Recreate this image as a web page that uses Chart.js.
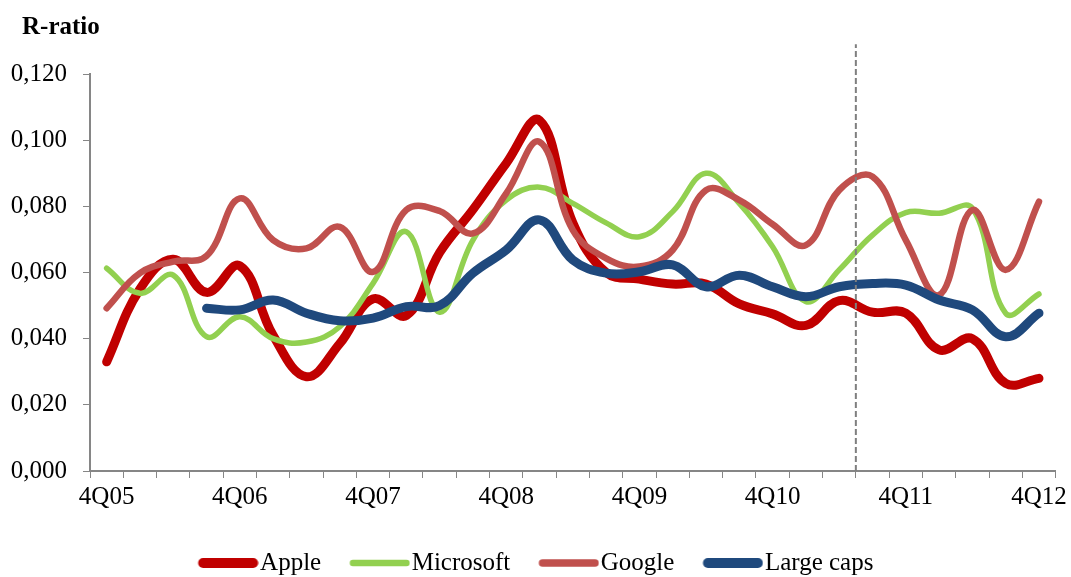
<!DOCTYPE html>
<html>
<head>
<meta charset="utf-8">
<script src="https://cdn.jsdelivr.net/npm/chart.js@4/dist/chart.umd.min.js"></script>
<style>
  html, body { margin: 0; padding: 0; background: #fff; }
  #wrap { width: 1071px; height: 577px; position: relative; }
</style>
</head>
<body>
<div id="wrap"><canvas id="rChart"></canvas></div>
<script>
// --- DATA ---
const quarters = [
    '4Q05', '1Q06', '2Q06', '3Q06', '4Q06', '1Q07', '2Q07', '3Q07',
    '4Q07', '1Q08', '2Q08', '3Q08', '4Q08', '1Q09', '2Q09', '3Q09',
    '4Q09', '1Q10', '2Q10', '3Q10', '4Q10', '1Q11', '2Q11', '3Q11',
    '4Q11', '1Q12', '2Q12', '3Q12', '4Q12'
];
const apple = [
    0.033, 0.055, 0.064, 0.054, 0.062, 0.041, 0.0285, 0.0385,
    0.052, 0.047, 0.066, 0.079, 0.093, 0.106, 0.075, 0.060,
    0.058, 0.0565, 0.0565, 0.0505, 0.0475, 0.044, 0.0515, 0.048,
    0.0477, 0.0366, 0.040, 0.0265, 0.028
];
const microsoft = [
    0.0613, 0.0537, 0.0592, 0.0406, 0.0466, 0.040, 0.039, 0.0436,
    0.0567, 0.0723, 0.048, 0.0698, 0.0819, 0.0858, 0.0809, 0.075,
    0.0708, 0.0784, 0.090, 0.0809, 0.0678, 0.0512, 0.0608, 0.0713,
    0.0781, 0.0779, 0.0794, 0.0477, 0.0535
];
const google = [
    0.0492, 0.0598, 0.0633, 0.065, 0.0824, 0.0698, 0.0673, 0.0738,
    0.0602, 0.0789, 0.0786, 0.0718, 0.0839, 0.0995, 0.0728, 0.0643,
    0.0618, 0.0668, 0.0849, 0.0819, 0.0746, 0.0683, 0.0849, 0.089,
    0.0698, 0.0532, 0.0789, 0.0608, 0.0814
];
const largeCaps = [
    null, null, null, 0.0492, 0.0487, 0.0517, 0.0477, 0.0454,
    0.0462, 0.0497, 0.050, 0.0598, 0.0668, 0.0759, 0.0638, 0.0598,
    0.0602, 0.0623, 0.0557, 0.0592, 0.0557, 0.0527, 0.0557, 0.0567,
    0.0562, 0.0517, 0.0487, 0.0406, 0.0477
];
const yTicks = [0, 0.02, 0.04, 0.06, 0.08, 0.10, 0.12];
const xLabelEvery = 4;
// forecast divider sits between 2Q11 and 3Q11
const dividerAt = 22.5;
const dividerTop = 0.129;

const serif = '"Liberation Serif", "Times New Roman", serif';
const axisGrey = '#868686';
const swatchBox = 50;

// --- PLUGINS ---
const titleAndDivider = {
    id: 'titleAndDivider',
    afterDatasetsDraw(chart) {
        const c = chart.ctx;
        const x = chart.scales.x.getPixelForValue(dividerAt);
        const y0 = chart.scales.y.getPixelForValue(0);
        const y1 = chart.scales.y.getPixelForValue(dividerTop);
        c.save();
        c.strokeStyle = '#7f7f7f';
        c.lineWidth = 2;
        c.setLineDash([6, 3]);
        c.beginPath();
        c.moveTo(x, y0);
        c.lineTo(x, y1);
        c.stroke();
        c.restore();
    },
    afterDraw(chart) {
        const c = chart.ctx;
        c.save();
        c.fillStyle = '#000';
        c.font = 'bold 25px ' + serif;
        c.textBaseline = 'alphabetic';
        c.fillText('R-ratio', 22, 34);
        c.restore();
    }
};

// legend swatch: a rounded stroke, nudged right so it sits close to its text
function swatch(color, lw) {
    const cv = document.createElement('canvas');
    cv.width = 72;
    cv.height = 16;
    const g = cv.getContext('2d');
    g.strokeStyle = color;
    g.lineWidth = lw;
    g.lineCap = 'round';
    g.beginPath();
    g.moveTo(11.5 + lw / 2, 8);
    g.lineTo(71.5 - lw / 2, 8);
    g.stroke();
    return cv;
}

function legendItems(chart) {
    const base = Chart.defaults.plugins.legend.labels.generateLabels(chart);
    return base.map(l => {
        const ds = chart.data.datasets[l.datasetIndex];
        return { ...l, pointStyle: swatch(ds.borderColor, ds.borderWidth + 1) };
    });
}

// --- CHART ---
const ctx = document.getElementById('rChart').getContext('2d');

new Chart(ctx, {
    type: 'line',
    data: {
        labels: quarters,
        datasets: [
            { label: 'Apple', data: apple, borderColor: '#C00000', backgroundColor: '#C00000', borderWidth: 9, order: 4 },
            { label: 'Microsoft', data: microsoft, borderColor: '#92D050', backgroundColor: '#92D050', borderWidth: 5.5, order: 3 },
            { label: 'Google', data: google, borderColor: '#C0504D', backgroundColor: '#C0504D', borderWidth: 6.5, order: 2 },
            { label: 'Large caps', data: largeCaps, borderColor: '#1F497D', backgroundColor: '#1F497D', borderWidth: 9, order: 1 }
        ]
    },
    options: {
        responsive: true,
        maintainAspectRatio: false,
        animation: false,
        layout: { padding: { left: 0, right: 0, top: 74, bottom: -8.5 } },
        elements: {
            line: { tension: 0.4, borderCapStyle: 'round', borderJoinStyle: 'round', fill: false },
            point: { radius: 0, hoverRadius: 0 }
        },
        plugins: {
            tooltip: { enabled: false },
            legend: {
                position: 'bottom',
                labels: {
                    usePointStyle: true,
                    pointStyleWidth: swatchBox,
                    padding: 28,
                    color: '#000',
                    font: { family: serif, size: 25 },
                    generateLabels: legendItems,
                    sort: (a, b) => a.datasetIndex - b.datasetIndex
                }
            }
        },
        scales: {
            x: {
                offset: true,
                afterFit: (s) => { s.height = 51.5; },
                grid: { offset: true, drawOnChartArea: false, drawTicks: true, tickLength: 7, color: axisGrey, tickWidth: 1 },
                border: { color: axisGrey, width: 2 },
                ticks: {
                    autoSkip: false,
                    maxRotation: 0,
                    padding: 4,
                    color: '#000',
                    font: { family: serif, size: 25 },
                    callback: (v, i) => (i % xLabelEvery === 0 ? quarters[i] : '')
                }
            },
            y: {
                min: 0,
                max: 0.12,
                afterFit: (s) => { s.width = 90; },
                afterBuildTicks: (s) => { s.ticks = yTicks.map(v => ({ value: v })); },
                grid: { drawOnChartArea: false, drawTicks: true, tickLength: 7, color: axisGrey },
                border: { color: axisGrey, width: 2 },
                ticks: {
                    padding: 16,
                    color: '#000',
                    font: { family: serif, size: 25 },
                    callback: (v) => v.toFixed(3).replace('.', ',')
                }
            },
            // empty strip on the right edge
            yRight: {
                position: 'right',
                display: true,
                afterFit: (s) => { s.width = 14; },
                grid: { display: false },
                border: { display: false },
                ticks: { display: false }
            }
        }
    },
    plugins: [titleAndDivider]
});
</script>
</body>
</html>
